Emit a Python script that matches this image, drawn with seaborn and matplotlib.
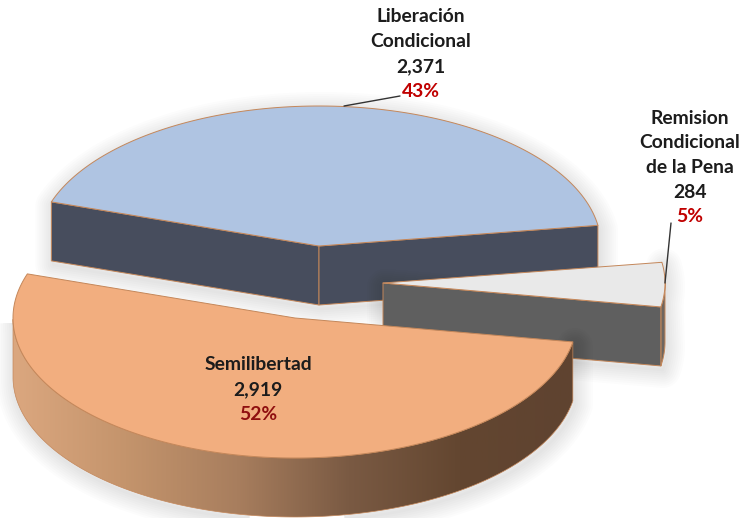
import numpy as np
import matplotlib
matplotlib.use("Agg")
import matplotlib.pyplot as plt
from matplotlib.patches import Polygon
import seaborn as sns

# data
categories = ["Liberación Condicional", "Semilibertad", "Remision Condicional de la Pena"]
values = [2371, 2919, 284]
percent_labels = ["43%", "52%", "5%"]

sns.set_theme(style="white")
plt.rcParams["font.family"] = ["Lato", "DejaVu Sans"]

RX, RY, DEPTH = 282, 140, 59
START_ANGLE = 8.5
EDGE = "#c4875a"

top_colors = ["#afc4e2", "#f2ae7f", "#e9e9e9"]
side_colors = ["#474d5d", None, "#5f5f5f"]
centers = [(319, 246), (295, 318), (383, 283)]
ramp = sns.blend_palette(["#dba77f", "#c4946c", "#a87e5e", "#7a5a43", "#634630", "#5f4330"], 256)


def arc(center, a0, a1, n=120):
    t = np.radians(np.linspace(a0, a1, n))
    return np.column_stack([center[0] + RX * np.cos(t), center[1] - RY * np.sin(t)])


def down(pts):
    return pts + np.array([0, DEPTH])


def shadow(ax, pts, zorder, strength=0.012):
    # soft shadow: stack of wide faint outlines
    for lw in range(26, 0, -3):
        ax.add_patch(Polygon(pts + np.array([2, 4]), closed=True, fc="none", ec="black",
                             lw=lw, alpha=strength, zorder=zorder, joinstyle="round"))


def face(ax, pts, color, zorder, lw=0.7):
    return ax.add_patch(Polygon(pts, closed=True, fc=color, ec=EDGE, lw=lw, zorder=zorder,
                                joinstyle="round"))


fig, ax = plt.subplots(figsize=(7.39, 5.18), dpi=100)
fig.subplots_adjust(0, 0, 1, 1)
ax.set_xlim(0, 739)
ax.set_ylim(518, 0)
ax.axis("off")

# slice angles come from the values
shares = np.array(values) / sum(values)
blue_a = (START_ANGLE, START_ANGLE + shares[0] * 360)
orange_a = (blue_a[1], blue_a[1] + shares[1] * 360)
gray_a = (orange_a[1], orange_a[1] + shares[2] * 360)

# blue slice
c = np.array(centers[0], float)
blue_arc = arc(c, *blue_a)
blue_outline = np.vstack([blue_arc, down(blue_arc[[-1]]), down(c[None]), down(blue_arc[[0]])])
shadow(ax, blue_outline, 1)
face(ax, np.vstack([blue_arc[[-1]], c[None], down(c[None]), down(blue_arc[[-1]])]), side_colors[0], 2)
face(ax, np.vstack([c[None], blue_arc[[0]], down(blue_arc[[0]]), down(c[None])]), side_colors[0], 2)
face(ax, np.vstack([c[None], blue_arc]), top_colors[0], 3)

# gray slice
c = np.array(centers[2], float)
gray_arc = arc(c, *gray_a)
gray_front = arc(c, gray_a[0], 360, 30)
gray_outline = np.vstack([c[None], gray_arc, down(gray_front[::-1]), down(c[None])])
shadow(ax, gray_outline, 4)
face(ax, np.vstack([gray_front, down(gray_front[::-1])]), "#6e6660", 5)
face(ax, np.vstack([c[None], gray_arc[[0]], down(gray_arc[[0]]), down(c[None])]), side_colors[2], 5)
face(ax, np.vstack([c[None], gray_arc]), top_colors[2], 6)

# orange slice, outer wall has the gradient
c = np.array(centers[1], float)
orange_arc = arc(c, *orange_a, 240)
wall = orange_arc[orange_arc[:, 1] >= c[1] - 0.5]
wall_pts = np.vstack([wall, down(wall[::-1])])
shadow(ax, wall_pts, 7)
grad = np.array(ramp)[None, :, :]
im = ax.imshow(grad, extent=(wall[:, 0].min(), wall[:, 0].max(), 518, 0), aspect="auto", zorder=8)
im.set_clip_path(Polygon(wall_pts, closed=True, transform=ax.transData))
ax.set_xlim(0, 739)
ax.set_ylim(518, 0)
face(ax, wall_pts, "none", 9, lw=0.5)
face(ax, np.vstack([c[None], orange_arc]), top_colors[1], 10)

# leader lines
ax.plot([344, 400], [106, 96], color="#333333", lw=1, zorder=11)
ax.plot([665, 671], [283, 223], color="#333333", lw=1, zorder=11)

# labels
DARK = "#1c1c1c"
label_x = [421, 258, 690]
label_lines = [["Liberación", "Condicional"], ["Semilibertad"], ["Remision", "Condicional", "de la Pena"]]
label_top = [17, 365, 118]
pct_colors = ["#c00000", "#8f0f0f", "#c00000"]
for i in range(3):
    rows = label_lines[i] + [f"{values[i]:,}"]
    y = label_top[i]
    for row in rows:
        ax.text(label_x[i], y, row, ha="center", va="center", fontsize=13.9, fontweight="bold",
                color=DARK, zorder=12)
        y += 24.7
    ax.text(label_x[i], y, percent_labels[i], ha="center", va="center", fontsize=13.9,
            fontweight="bold", color=pct_colors[i], zorder=12)

fig.savefig("out.png", dpi=100, facecolor="white")
